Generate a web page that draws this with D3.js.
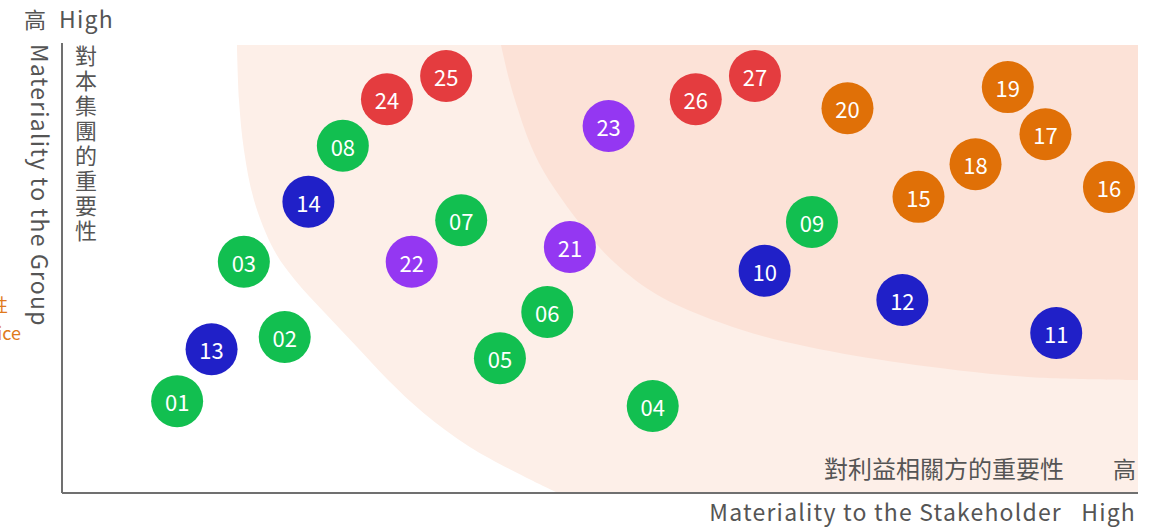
<!DOCTYPE html>
<html>
<head>
<meta charset="utf-8">
<script src="https://cdn.jsdelivr.net/npm/d3@7"></script>
<style>
    body { margin: 0; background: #fff; }
    svg { display: block; font-family: "Noto Sans CJK TC", "Noto Sans", sans-serif; }
    .axisText { fill: #555; }
    .latin { letter-spacing: 1.2px; }
    .issueLabel { fill: #fff; }
</style>
</head>
<body>
<div id="matrix"></div>
<script>

// Issue numbers, their category and scores (0-100 on both axes)
var issueIds = ["01","02","03","04","05","06","07","08","09","10","11","12","13","14",
                "15","16","17","18","19","20","21","22","23","24","25","26","27"];
var issueCategory = ["G","G","G","G","G","G","G","G","G","B","B","B","B","B",
                     "O","O","O","O","O","O","P","P","P","R","R","R","R"];
var stakeholderScore = [10.7,20.7,16.9,54.9,40.7,45.1,37.1,26.1,69.7,65.3,92.4,78.1,13.9,22.9,
                        79.6,97.3,91.4,84.9,87.9,73.0,47.2,32.5,50.8,30.2,35.7,58.9,64.4];
var groupScore = [20.5,34.8,51.6,19.4,30.1,40.4,60.9,77.5,60.5,49.6,35.7,43.1,32.1,65.0,
                  66.1,68.3,80.1,73.4,90.6,85.9,54.9,51.6,81.9,87.9,93.1,87.9,93.1];

// Boundaries of the two shaded bands
var outerBandX = [16.26,16.45,16.91,17.84,19.70,21.65,24.44,27.42,30.30,33.60,37.90,43.60,46.10];
var outerBandY = [100,87.72,76.56,65.40,54.24,47.54,40.18,32.59,25.22,17.86,10.27,2.90,0];
var innerBandX = [40.80,42.01,44.33,48.61,51.39,55.67,63.20,69.42,78.07,89.78,100];
var innerBandY = [100,88.39,73.66,58.71,51.34,43.75,36.38,32.59,29.02,25.89,25.22];

var categoryColors = {G: "#12bf50", B: "#2020c8", O: "#e07007", P: "#9437f2", R: "#e43c3f"};

var yTitleCn = "對本集團的重要性";

function MaterialityChart(){
    var self = this;
    self.init();
};

MaterialityChart.prototype.init = function(){
    var self = this;
    self.width = 1166;
    self.height = 528;
    self.plot = {left: 62, right: 1138, top: 45, bottom: 493};

    self.svg = d3.select("#matrix").append("svg")
        .attr("width", self.width)
        .attr("height", self.height);

    self.xScale = d3.scaleLinear().domain([0, 100]).range([self.plot.left, self.plot.right]);
    self.yScale = d3.scaleLinear().domain([0, 100]).range([self.plot.bottom, self.plot.top]);
};

MaterialityChart.prototype.bandPath = function(xs, ys, tail){
    var self = this;
    var pts = xs.map(function(d, i){ return [d, ys[i]]; });
    var line = d3.line()
        .x(function(d){ return self.xScale(d[0]); })
        .y(function(d){ return self.yScale(d[1]); })
        .curve(d3.curveCatmullRom);
    var p = line(pts);
    tail.forEach(function(t){
        p += "L" + self.xScale(t[0]) + "," + self.yScale(t[1]);
    });
    return p + "Z";
};

MaterialityChart.prototype.update = function(){
    var self = this;
    var svg = self.svg;

    //shaded bands
    svg.append("path")
        .attr("d", self.bandPath(outerBandX, outerBandY, [[100, 0], [100, 100]]))
        .attr("fill", "#fdefe8");
    svg.append("path")
        .attr("d", self.bandPath(innerBandX, innerBandY, [[100, 100]]))
        .attr("fill", "#fce2d7");

    //axis lines
    svg.append("line")
        .attr("x1", self.xScale(0)).attr("x2", self.xScale(0))
        .attr("y1", self.yScale(100) - 2).attr("y2", self.yScale(0))
        .attr("stroke", "#707070").attr("stroke-width", 2);
    svg.append("line")
        .attr("x1", self.xScale(0)).attr("x2", self.xScale(100))
        .attr("y1", self.yScale(0)).attr("y2", self.yScale(0))
        .attr("stroke", "#707070").attr("stroke-width", 2);

    //top-left label
    svg.append("text").attr("class", "axisText")
        .attr("x", 24).attr("y", 28).attr("font-size", 22).text("高");
    svg.append("text").attr("class", "axisText latin")
        .attr("x", 59).attr("y", 28).attr("font-size", 23).text("High");

    //y title, english rotated
    svg.append("text").attr("class", "axisText latin")
        .attr("transform", "translate(31,44) rotate(90)")
        .attr("font-size", 23)
        .text("Materiality to the Group");

    //y title, chinese written vertically
    svg.append("text").attr("class", "axisText")
        .attr("x", 86).attr("y", 45)
        .attr("writing-mode", "vertical-rl")
        .style("letter-spacing", "3px")
        .attr("font-size", 22)
        .text(yTitleCn);

    //cut-off orange note at the left edge
    svg.append("text")
        .attr("x", 8).attr("y", 312).attr("text-anchor", "end")
        .attr("font-size", 18).attr("fill", "#e07a1c").text("要性");
    svg.append("text")
        .attr("x", 21).attr("y", 340).attr("text-anchor", "end")
        .attr("font-size", 18).attr("fill", "#e07a1c").text("Practice");

    //x titles
    svg.append("text").attr("class", "axisText")
        .attr("x", 1064).attr("y", 478).attr("text-anchor", "end")
        .attr("font-size", 24).text("對利益相關方的重要性");
    svg.append("text").attr("class", "axisText")
        .attr("x", 1136).attr("y", 478).attr("text-anchor", "end")
        .attr("font-size", 23).text("高");
    svg.append("text").attr("class", "axisText latin")
        .attr("x", 1062).attr("y", 521).attr("text-anchor", "end")
        .attr("font-size", 23).text("Materiality to the Stakeholder");
    svg.append("text").attr("class", "axisText latin")
        .attr("x", 1136).attr("y", 521).attr("text-anchor", "end")
        .attr("font-size", 23).text("High");

    //issue bubbles
    var issues = issueIds.map(function(id, i){
        return {id: id, cat: issueCategory[i], x: stakeholderScore[i], y: groupScore[i]};
    });

    var bubbles = svg.selectAll(".issue").data(issues)
        .enter()
        .append("g")
        .attr("class", "issue")
        .attr("transform", function(d){
            return "translate(" + self.xScale(d.x) + "," + self.yScale(d.y) + ")";
        });

    bubbles.append("circle")
        .attr("r", 26)
        .attr("fill", function(d){ return categoryColors[d.cat]; });

    bubbles.append("text")
        .attr("class", "issueLabel")
        .attr("text-anchor", "middle")
        .attr("dominant-baseline", "central")
        .attr("font-size", 22)
        .text(function(d){ return d.id; });
};

var chart = new MaterialityChart();
chart.update();
</script>
</body>
</html>
